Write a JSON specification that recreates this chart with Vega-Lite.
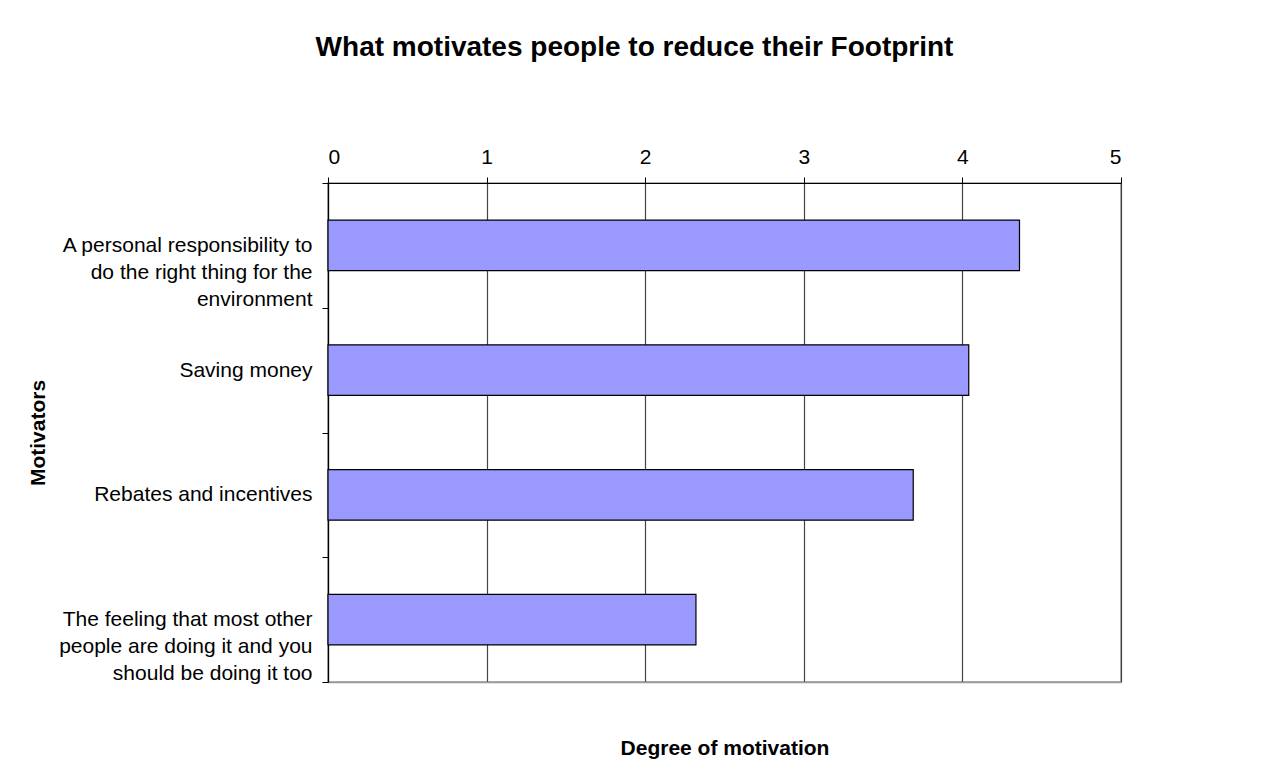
{
  "$schema": "https://vega.github.io/schema/vega-lite/v6.json",
  "width": 793,
  "height": 499,
  "padding": {"left": 27, "top": 34, "right": 10, "bottom": 10},
  "background": "white",
  "title": {
    "text": "What motivates people to reduce their Footprint",
    "font": "Liberation Sans",
    "fontSize": 28,
    "fontWeight": "bold",
    "color": "black",
    "anchor": "middle",
    "dx": -90,
    "offset": 84
  },
  "data": {
    "values": [
      {"motivator": "A personal responsibility to do the right thing for the environment", "degree": 4.36},
      {"motivator": "Saving money", "degree": 4.04},
      {"motivator": "Rebates and incentives", "degree": 3.69},
      {"motivator": "The feeling that most other people are doing it and you should be doing it too", "degree": 2.32}
    ]
  },
  "config": {
    "view": {"stroke": "#999999", "strokeWidth": 1.5},
    "font": "Liberation Sans"
  },
  "resolve": {"axis": {"x": "independent", "y": "independent"}},
  "layer": [
    {
      "mark": {"type": "bar", "fill": "#9999ff", "stroke": "black", "strokeWidth": 1.2},
      "encoding": {
        "x": {
          "field": "degree",
          "type": "quantitative",
          "scale": {"domain": [0, 5], "nice": false, "zero": true},
          "axis": {
            "orient": "top",
            "values": [0, 1, 2, 3, 4, 5],
            "format": "d",
            "title": null,
            "labelFont": "Liberation Sans",
            "labelFontSize": 21,
            "labelColor": "black",
            "labelPadding": 10,
            "tickSize": 6,
            "tickColor": "black",
            "domainColor": "black",
            "domainWidth": 1.2,
            "grid": true,
            "gridColor": "#444444",
            "gridWidth": 1.2,
            "gridOpacity": 1
          }
        },
        "y": {
          "field": "motivator",
          "type": "nominal",
          "sort": null,
          "scale": {"paddingInner": 0.595, "paddingOuter": 0.2975},
          "axis": {
            "orient": "left",
            "title": "Motivators",
            "titleFont": "Liberation Sans",
            "titleFontSize": 21,
            "titleFontWeight": "bold",
            "titleColor": "black",
            "titleX": -290,
            "titleY": 249.5,
            "titleAngle": -90,
            "titleAlign": "center",
            "titleBaseline": "middle",
            "labelFont": "Liberation Sans",
            "labelFontSize": 21,
            "labelColor": "black",
            "labelAlign": "right",
            "labelBaseline": "middle",
            "labelLineHeight": 27,
            "labelLimit": 400,
            "labelPadding": 10,
            "labelExpr": "datum.value == 'A personal responsibility to do the right thing for the environment' ? ['A personal responsibility to', 'do the right thing for the', 'environment'] : datum.value == 'The feeling that most other people are doing it and you should be doing it too' ? ['The feeling that most other', 'people are doing it and you', 'should be doing it too'] : datum.label",
            "bandPosition": 0,
            "tickOffset": -37.11,
            "labelOffset": 37.11,
            "tickSize": 6,
            "tickColor": "black",
            "domainColor": "black",
            "domainWidth": 1.2,
            "grid": false
          }
        }
      }
    },
    {
      "mark": {"type": "bar", "opacity": 0},
      "encoding": {
        "x": {
          "field": "degree",
          "type": "quantitative",
          "axis": {
            "orient": "bottom",
            "title": "Degree of motivation",
            "titleFont": "Liberation Sans",
            "titleFontSize": 21,
            "titleFontWeight": "bold",
            "titleColor": "black",
            "titlePadding": 55,
            "labels": false,
            "ticks": false,
            "grid": false,
            "domainColor": "#999999",
            "domainWidth": 1.5
          }
        },
        "y": {
          "field": "motivator",
          "type": "nominal",
          "sort": null,
          "axis": {
            "orient": "left",
            "values": ["The feeling that most other people are doing it and you should be doing it too"],
            "title": null,
            "labels": false,
            "domain": false,
            "grid": false,
            "bandPosition": 1,
            "tickOffset": 37.11,
            "tickSize": 6,
            "tickColor": "black"
          }
        }
      }
    }
  ]
}
